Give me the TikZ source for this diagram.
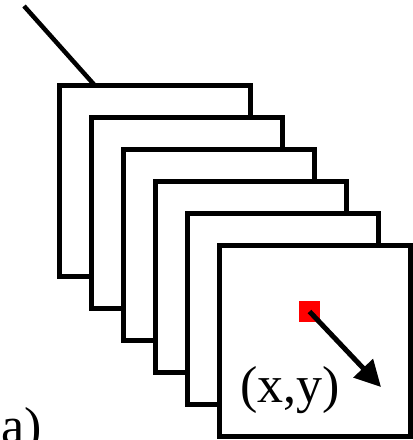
\documentclass[tikz,border=0pt]{standalone}
\usepackage{fontspec}
\setmainfont{Liberation Serif}
\usetikzlibrary{arrows.meta}
\begin{document}
\begin{tikzpicture}[x=1pt,y=-1pt,
  sq/.style={draw=black,fill=white,line width=5pt,minimum width=191pt,minimum height=191pt,inner sep=0pt,outer sep=0pt},
  pix/.style={fill=red,minimum size=21pt,inner sep=0pt,outer sep=0pt},
  big/.style={font=\fontsize{52}{52}\selectfont,inner sep=0pt,anchor=base west}]
\useasboundingbox (0,0) rectangle (413,440);
\coordinate (p) at (24,6);
\coordinate (q) at (94,84.5);
\draw[line width=4.5pt] (p) -- (q);
\foreach \i in {0,...,5}{
  \node[sq] (s\i) at ({154.5+32*\i},{180.5+32*\i}) {};
}
\node[pix] (r) at (309.5,311.5) {};
\coordinate (tip) at (381,387);
\draw[line width=5pt,-{Triangle[length=26pt,width=26pt]}] (r.center) -- (tip);
\node[big] (lbl) at (240,402) {(x,y)};
\node[big] (cap) at (1,443) {a)};
\end{tikzpicture}
\end{document}
